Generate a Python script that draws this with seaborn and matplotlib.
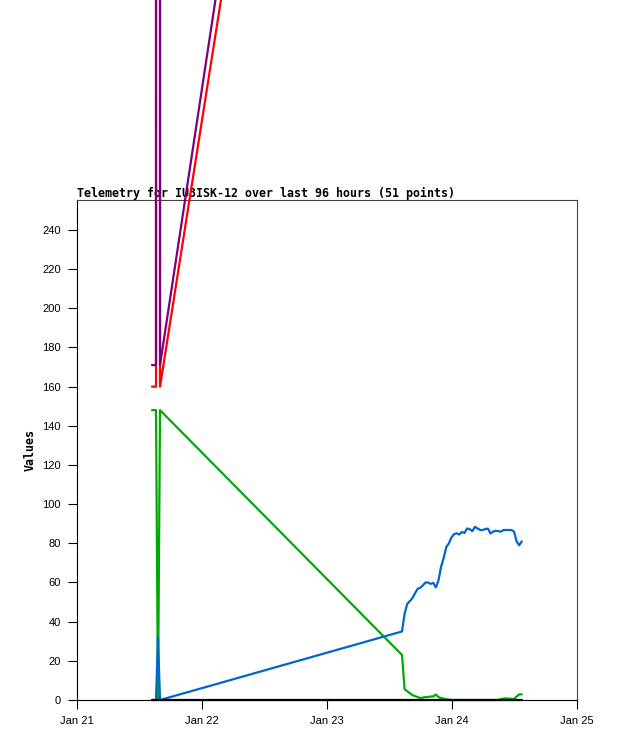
import pandas as pd
import matplotlib
matplotlib.use('Agg')
import matplotlib.pyplot as plt
import matplotlib.dates as mdates
import seaborn as sns

title = 'Telemetry for IU3ISK-12 over last 96 hours (51 points)'
start = pd.Timestamp('2025-01-21 00:00')

# sample times, hours after Jan 21 00:00
hours = [14.40, 15.17, 15.55, 15.94,
         62.4, 62.9, 63.4, 63.9, 64.4, 64.9, 65.4, 65.9, 66.4, 66.9,
         67.4, 67.9, 68.4, 68.9, 69.4, 69.9, 70.4, 70.9, 71.4, 71.9,
         72.4, 72.9, 73.4, 73.9, 74.4, 74.9, 75.4, 75.9, 76.4, 76.9,
         77.4, 77.9, 78.4, 78.9, 79.4, 79.9, 80.4, 80.9, 81.4, 81.9,
         82.4, 82.9, 83.4, 83.9, 84.4, 84.9, 85.4]

blue = [0, 0, 32, 0,
        35, 44, 49, 50.5, 52, 54.5, 56.8, 57.3, 58.5, 60,
        60, 59.3, 59.8, 57.5, 61, 68, 72.5, 78, 80, 83,
        84.7, 85.1, 84.5, 85.8, 85.3, 87.6, 87.2, 86.2, 88.4, 87.6,
        86.8, 86.8, 87.3, 87.5, 85, 86, 86.4, 86.2, 86, 86.8,
        86.8, 86.8, 86.8, 86, 81, 79, 81]

green = [148, 148, 0, 148,
         23, 5.5, 4.5, 3.5, 2.5, 2, 1.5, 1, 1.2, 1.5,
         1.5, 1.8, 1.8, 2.8, 1.5, 1, 0.7, 0.4, 0.2, 0,
         0, 0, 0, 0, 0, 0, 0, 0, 0, 0,
         0, 0, 0, 0, 0, 0, 0, 0, 0.5, 0.7,
         0.8, 0.7, 0.6, 0.5, 1.7, 2.9, 2.9]

# red and purple run far above the plot after the first samples
red = [160, 160, 30000, 160,
       944, 950, 955, 958, 961, 963, 966, 968, 969, 971,
       972, 972, 973, 974, 975, 977, 979, 981, 983, 984,
       985, 986, 986, 987, 987, 988, 988, 988, 989, 989,
       989, 989, 990, 990, 990, 990, 990, 990, 991, 991,
       991, 991, 991, 990, 990, 990, 990]

purple = [171, 171, 30000, 171,
          985, 990, 994, 997, 999, 1001, 1003, 1005, 1006, 1008,
          1009, 1009, 1010, 1011, 1012, 1014, 1016, 1018, 1019, 1020,
          1021, 1022, 1022, 1023, 1023, 1024, 1024, 1024, 1025, 1025,
          1025, 1025, 1026, 1026, 1026, 1026, 1026, 1026, 1027, 1027,
          1027, 1027, 1027, 1026, 1026, 1026, 1026]

black = [0.0] * len(hours)

times = start + pd.to_timedelta(hours, unit='h')

sns.set_style('ticks')
plt.rcParams['font.family'] = ['Liberation Sans', 'DejaVu Sans']
plt.rcParams['text.color'] = 'black'
plt.rcParams['axes.labelcolor'] = 'black'

fig = plt.figure(figsize=(6.18, 7.41), dpi=100)
ax = fig.add_axes([77 / 618, 41 / 741, 500 / 618, 500 / 741])

series = [(red, '#ff0000'), (purple, '#7a0080'), (green, '#00aa00'),
          (blue, '#0066cc'), (black, '#000000')]
for vals, col in series:
    sns.lineplot(x=times, y=vals, color=col, lw=1.6, ax=ax, estimator=None,
                 clip_on=False, zorder=4, legend=False)

ax.set_xlim(start, start + pd.Timedelta(days=4))
ax.set_ylim(0, 255.3)
ax.xaxis.set_major_locator(mdates.DayLocator())
ax.xaxis.set_major_formatter(mdates.DateFormatter('%b %d'))
ax.set_yticks(range(0, 241, 20))
ax.tick_params(direction='out', length=6.5, width=0.8, labelsize=8, pad=5,
               colors='black')

for side in ['left', 'bottom']:
    ax.spines[side].set_color('black')
for side in ['top', 'right']:
    ax.spines[side].set_visible(True)
    ax.spines[side].set_color('#444444')
for s in ax.spines.values():
    s.set_linewidth(0.8)

ax.set_title(title, loc='left', fontsize=8.35, fontweight='bold',
             family='DejaVu Sans Mono', pad=2, color='black')
ax.set_xlabel('')
ax.set_ylabel('Values', fontsize=8.35, fontweight='bold',
              family='DejaVu Sans Mono', color='black')
ax.yaxis.set_label_coords(-0.08, 0.5)

fig.savefig('out.png', dpi=100)
